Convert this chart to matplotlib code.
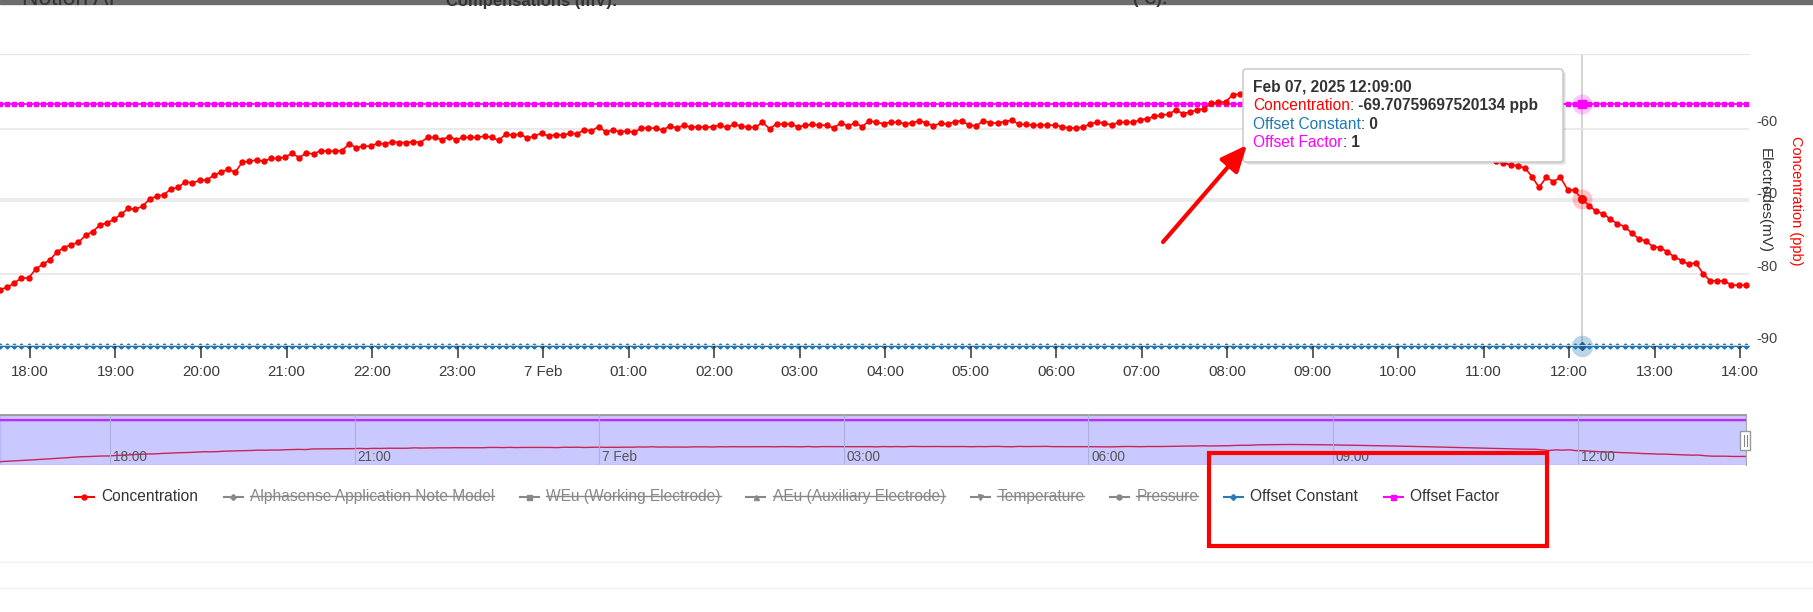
import numpy as np
import pandas as pd
import matplotlib
matplotlib.use('Agg')
import matplotlib.pyplot as plt
import matplotlib.dates as mdates
from matplotlib.patches import Rectangle, FancyBboxPatch, FancyArrowPatch
from matplotlib.lines import Line2D
from matplotlib.ticker import FuncFormatter
from matplotlib.transforms import IdentityTransform, ScaledTranslation

plt.rcParams['font.family'] = ['Liberation Sans', 'DejaVu Sans']
plt.rcParams['axes.unicode_minus'] = False

W, H, DPI = 1813, 612, 100

# Data: 5-minute samples starting at START
START = '2025-02-06 16:39'
# only visible in the navigator (left of the main view)
CONC_EARLY = [-93.4, -92.6, -91.8, -91.0, -90.1, -89.2, -88.3, -87.3, -86.3, -85.3, -84.2, -83.2]
# 17:39 - 23:44
CONC_EVENING = [-82.2, -81.9, -81.3, -80.6, -80.6, -79.4, -78.7, -78.1, -77.0, -76.4,
                -76.0, -75.7, -74.7, -74.2, -73.3, -73.0, -72.5, -71.8, -71.0, -71.1,
                -70.7, -69.7, -69.3, -69.1, -68.3, -68.1, -67.3, -67.5, -67.1, -67.1,
                -66.4, -66.0, -65.6, -66.0, -64.6, -64.5, -64.3, -64.5, -64.1, -64.1,
                -63.9, -63.4, -64.0, -63.3, -63.5, -63.0, -63.1, -63.1, -63.0, -62.1,
                -62.6, -62.4, -62.4, -62.0, -62.1, -61.8, -61.9, -61.9, -61.8, -61.9,
                -61.2, -61.2, -61.5, -61.1, -61.5, -61.2, -61.2, -61.2, -61.0, -61.2,
                -61.6, -60.7, -60.9, -60.7]
# 23:49 - 05:34
CONC_NIGHT = [-61.3, -61.0, -60.6, -61.0, -60.8, -60.9, -60.6, -60.7, -60.1, -60.3,
              -59.7, -60.4, -60.2, -60.4, -60.3, -60.5, -59.9, -59.9, -59.9, -60.2,
              -59.6, -59.9, -59.5, -59.8, -59.7, -59.8, -59.7, -59.5, -59.8, -59.4,
              -59.6, -59.8, -59.8, -59.1, -60.0, -59.3, -59.4, -59.3, -59.8, -59.5,
              -59.4, -59.5, -59.5, -59.9, -59.2, -59.6, -59.2, -59.7, -58.9, -59.1,
              -59.3, -59.1, -59.1, -59.3, -59.2, -58.9, -59.2, -59.6, -59.2, -59.4,
              -59.0, -58.9, -59.5, -59.6, -58.9, -59.2, -59.2, -59.0, -58.8, -59.4]
# 05:39 - 08:09
CONC_MORNING = [-59.4, -59.5, -59.5, -59.5, -59.5, -59.7, -59.9, -59.9, -59.8, -59.3,
                -59.1, -59.2, -59.5, -59.1, -59.1, -59.1, -58.8, -58.6, -58.3, -58.1,
                -58.0, -57.4, -57.9, -57.7, -57.4, -57.2, -56.5, -56.3, -56.3, -55.3,
                -55.2]
# 08:14 - 11:09, behind the tooltip (estimated)
CONC_UNDER_TOOLTIP = [-55.0, -54.8, -54.6, -54.5, -54.6, -54.7, -54.9, -55.1, -55.2, -55.5,
                      -55.7, -56.0, -56.2, -56.5, -56.8, -57.0, -57.3, -57.6, -57.9, -58.2,
                      -58.5, -58.9, -59.3, -59.6, -60.0, -60.4, -60.8, -61.3, -61.6, -62.0,
                      -62.5, -62.9, -63.3, -63.7, -64.1, -64.4]
# 11:14 - 14:04
CONC_LATE = [-64.7, -65.0, -65.1, -65.4, -66.6, -68.1, -66.7, -67.3, -66.7, -68.4,
             -68.5, -69.70759697520134, -70.6, -71.4, -71.7, -72.5, -73.1, -73.5, -74.4, -75.2,
             -75.5, -76.3, -76.4, -77.0, -77.7, -78.2, -78.7, -78.5, -80.0, -81.0,
             -81.0, -81.0, -81.6, -81.6, -81.6]
CONC = CONC_EARLY + CONC_EVENING + CONC_NIGHT + CONC_MORNING + CONC_UNDER_TOOLTIP + CONC_LATE
N = len(CONC)
OFFSET_CONSTANT = [0] * N
OFFSET_FACTOR = [1] * N

MAIN_START = '2025-02-06 17:39'
HOVER_TIME = '2025-02-07 12:09'
Y_TICKS = [-60, -70, -80, -90]

LEGEND_NAMES = ['Concentration', 'Alphasense Application Note Model', 'WEu (Working Electrode)',
                'AEu (Auxiliary Electrode)', 'Temperature', 'Pressure', 'Offset Constant', 'Offset Factor']
LEGEND_VISIBLE = [True, False, False, False, False, False, True, True]
LEGEND_COLORS = ['#ff0000', '#888888', '#888888', '#888888', '#888888', '#888888', '#2a7ab8', '#ff00ff']
LEGEND_MARKERS = ['o', 'D', 's', '^', 'v', 'o', 'D', 's']

RED, MAGENTA, BLUE = '#ff0000', '#ff00ff', '#2077b4'

t_all = pd.date_range(START, periods=N, freq='5min').to_pydatetime()
conc = np.array(CONC)
off_c = np.array(OFFSET_CONSTANT, dtype=float)
off_f = np.array(OFFSET_FACTOR, dtype=float)
in_main = t_all >= pd.Timestamp(MAIN_START).to_pydatetime()
hover_dt = pd.Timestamp(HOVER_TIME).to_pydatetime()
ih = list(t_all).index(hover_dt)

fig = plt.figure(figsize=(W / DPI, H / DPI), dpi=DPI)
pix = IdentityTransform()


def box(x0, y0, x1, y1):
    # image pixel box -> figure fraction rect
    return [x0 / W, 1 - y1 / H, (x1 - x0) / W, (y1 - y0) / H]


def hour_label(x, pos):
    d = mdates.num2date(x)
    return f'{d.day} Feb' if d.hour == 0 else d.strftime('%H:%M')


# page header remnants
fig.add_artist(Rectangle((0, H - 4), W, 4, transform=pix, color='#6d6d6d', zorder=1))
fig.text(22, H - 5, 'Notion AI', transform=pix, fontsize=16.5, color='#333333', zorder=2)
fig.text(446, H - 6, 'Compensations (mV):', transform=pix, fontsize=12, fontweight='bold',
         color='#333333', zorder=2)
fig.text(1132, H - 4, '(\u00b0C):', transform=pix, fontsize=12, fontweight='bold',
         color='#333333', zorder=2)

# main chart
ax = fig.add_axes(box(0, 54, 1749, 346))
ax_off = ax.twinx()
ax_off.set_zorder(ax.get_zorder() - 1)
ax.patch.set_visible(False)

ax.set_xlim(pd.Timestamp('2025-02-06 17:38:57'), pd.Timestamp('2025-02-07 14:06:18'))
ax.set_ylim(-90, -49.67)
ax_off.set_ylim(0, 1.2051)

ax.plot(t_all[in_main], conc[in_main], color=RED, lw=1.2, marker='o', ms=3.6, zorder=3)
ax.plot([hover_dt], [conc[ih]], 'o', color=RED, ms=14.4, alpha=0.22, mec='none', zorder=3)
ax.plot([hover_dt], [conc[ih]], 'o', color=RED, ms=5.5, zorder=4)

ax_off.axvline(hover_dt, color='#cccccc', lw=1.2, zorder=0.5)
ax_off.plot(t_all[in_main], off_f[in_main], color=MAGENTA, lw=1.3, marker='s', ms=3.4, zorder=2)
ax_off.plot(t_all[in_main], off_c[in_main], color='#2e5c87', lw=1.4, marker='D', ms=2.6,
            mfc=BLUE, mec=BLUE, clip_on=False, zorder=3)
ax_off.plot([hover_dt], [off_f[ih]], 'o', color=MAGENTA, ms=14.4, alpha=0.22, mec='none', clip_on=False)
ax_off.plot([hover_dt], [off_f[ih]], 's', color=MAGENTA, ms=5.5)
ax_off.plot([hover_dt], [off_c[ih]], 'o', color=BLUE, ms=15.5, alpha=0.3, mec='none', clip_on=False)
ax_off.plot([hover_dt], [off_c[ih]], 'D', color='#1d5f94', ms=4, clip_on=False, zorder=4)

ax.set_yticks(Y_TICKS)
ax.yaxis.set_major_formatter(FuncFormatter(lambda v, p: f'{v:.0f}'))
ax.yaxis.tick_right()
ax.tick_params(axis='y', length=0, pad=5, labelsize=10.5, labelcolor='#444444')
for lbl in ax.get_yticklabels():
    lbl.set_verticalalignment('bottom')
ax.grid(axis='y', color='#e6e6e6', lw=1.2)
ax.axhline(-69.7, color='#e6e6e6', lw=1.2, zorder=0.5)  # electrodes axis gridline
ax.set_axisbelow(True)

ax.xaxis.set_major_locator(mdates.HourLocator(interval=1))
ax.xaxis.set_major_formatter(FuncFormatter(hour_label))
ax.tick_params(axis='x', direction='out', length=8.6, width=1.1, color='#333333', pad=5,
               labelsize=10.8, labelcolor='#3a3a3a')
for side in ['left', 'right', 'bottom']:
    ax.spines[side].set_visible(False)
ax.spines['top'].set_color('#e6e6e6')
ax_off.set_yticks([])
for side in ['left', 'right', 'top']:
    ax_off.spines[side].set_visible(False)
ax_off.spines['bottom'].set_color('#9aa6b8')

fig.text(1765, H - 201, 'Electrodes(mV)', transform=pix, rotation=270, ha='center', va='center',
         fontsize=11, color='#333333')
fig.text(1796, H - 201, 'Concentration (ppb)', transform=pix, rotation=270, ha='center', va='center',
         fontsize=10.5, color=RED)

# navigator
axn = fig.add_axes(box(0, 415, 1746, 465))
axn.plot(t_all, conc, color=RED, lw=1.0, zorder=2)
axn.plot(t_all, off_c, color=BLUE, lw=1.0, zorder=2)
axn.plot(t_all, off_f, color=MAGENTA, lw=1.6, zorder=2)
axn.set_xlim(t_all[0], t_all[-1])
axn.set_ylim(-101, 12.3)
axn.add_patch(Rectangle((0, 0), 1, 1, transform=axn.transAxes, color=(0.4, 0.4, 1.0, 0.35), zorder=2.2))
axn.xaxis.set_major_locator(mdates.HourLocator(byhour=range(0, 24, 3)))
axn.xaxis.set_major_formatter(FuncFormatter(hour_label))
axn.set_axisbelow(False)
axn.grid(axis='x', color='#aeb0dc', lw=0.8)
axn.tick_params(axis='x', length=0, pad=-10.8, labelsize=9.8, labelcolor='#555555')
axn.set_yticks([])
shift = ScaledTranslation(3 / DPI, 0, fig.dpi_scale_trans)
for lbl in axn.get_xticklabels():
    lbl.set_horizontalalignment('left')
    lbl.set_transform(lbl.get_transform() + shift)
for side in ['left', 'bottom']:
    axn.spines[side].set_visible(False)
axn.spines['top'].set_color('#999999')
axn.spines['top'].set_linewidth(1.3)
axn.spines['right'].set_color('#aaaaaa')
fig.add_artist(Rectangle((1740, H - 450), 10, 19, transform=pix, fc='white', ec='#999999', lw=1, zorder=5))
for hx in [1743.5, 1746.5]:
    fig.add_artist(Line2D([hx, hx], [H - 446, H - 435], transform=pix, color='#888888', lw=0.8, zorder=6))

# legend
renderer = fig.canvas.get_renderer()
LEG_Y = H - 496.7
x = 74.6
for name, visible, color, marker in zip(LEGEND_NAMES, LEGEND_VISIBLE, LEGEND_COLORS, LEGEND_MARKERS):
    fig.add_artist(Line2D([x, x + 19], [LEG_Y, LEG_Y], transform=pix, color=color, lw=1.5))
    fig.add_artist(Line2D([x + 9.5], [LEG_Y], transform=pix, color=color, marker=marker,
                          ms=3.6 if marker != 'D' else 3.0, ls='none'))
    tcol = '#333333' if visible else '#888888'
    t = fig.text(x + 26.5, LEG_Y, name, transform=pix, fontsize=11.2, color=tcol, va='center')
    bb = t.get_window_extent(renderer)
    if not visible:
        fig.add_artist(Line2D([bb.x0, bb.x1], [LEG_Y + 0.5, LEG_Y + 0.5], transform=pix, color='#888888', lw=1))
    x = bb.x1 + 25.5

for ly in [562.3, 587.7]:
    fig.add_artist(Line2D([0, W], [H - ly, H - ly], transform=pix, color='#edf0f5', lw=1))

# tooltip
fig.add_artist(FancyBboxPatch((1245.5, H - 164.5), 320, 93, boxstyle='round,pad=0,rounding_size=3',
                              transform=pix, fc=(0, 0, 0, 0.13), ec='none', zorder=9))
fig.add_artist(FancyBboxPatch((1243, H - 162), 320, 93, boxstyle='round,pad=0,rounding_size=3',
                              transform=pix, fc='white', ec='#c4c4c4', lw=1, zorder=10))
tt_lines = [
    (86.7, [(hover_dt.strftime('%b %d, %Y %H:%M:%S'), '#333333', 'bold')]),
    (105.7, [('Concentration', RED, 'normal'), (':', '#333333', 'normal'),
             (f' {CONC[ih]} ppb', '#333333', 'bold')]),
    (124.3, [('Offset Constant', '#1f7ab5', 'normal'), (':', '#333333', 'normal'),
             (f' {OFFSET_CONSTANT[ih]}', '#333333', 'bold')]),
    (142.7, [('Offset Factor', MAGENTA, 'normal'), (':', '#333333', 'normal'),
             (f' {OFFSET_FACTOR[ih]}', '#333333', 'bold')]),
]
for ly, parts in tt_lines:
    tx = 1253
    for s, col, wt in parts:
        t = fig.text(tx, H - ly, s, transform=pix, fontsize=11.2, color=col, fontweight=wt,
                     va='center', zorder=11)
        tx = t.get_window_extent(renderer).x1

# annotations drawn on the screenshot
fig.add_artist(FancyArrowPatch((1163, H - 242), (1247, H - 145), transform=pix,
                               arrowstyle='-|>,head_length=0.8,head_width=0.35', mutation_scale=20,
                               color=RED, lw=3, shrinkA=0, shrinkB=0, zorder=12))
fig.add_artist(Rectangle((1209, H - 546), 338, 93, transform=pix, fill=False, ec=RED, lw=3, zorder=12))

fig.savefig('out.png', dpi=DPI)
